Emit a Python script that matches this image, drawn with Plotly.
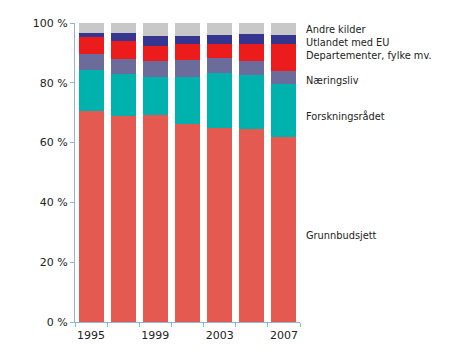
import plotly.graph_objects as go

years = ["1995", "1997", "1999", "2001", "2003", "2005", "2007"]
tick_labels = ["1995", "", "1999", "", "2003", "", "2007"]
y_ticks = [0, 20, 40, 60, 80, 100]
y_tick_labels = ["0 %", "20 %", "40 %", "60 %", "80 %", "100 %"]

grunnbudsjett = [70.6, 68.9, 69.1, 66.1, 65.0, 64.5, 61.9]
forskningsradet = [13.7, 14.1, 12.8, 15.8, 18.3, 18.2, 17.8]
naeringsliv = [5.3, 5.1, 5.5, 5.8, 5.1, 4.7, 4.2]
departementer = [5.6, 5.9, 5.0, 5.4, 4.7, 5.7, 9.2]
utlandet = [1.6, 2.8, 3.1, 2.4, 2.8, 3.1, 2.8]
andre = [3.2, 3.2, 4.5, 4.5, 4.1, 3.8, 4.1]

series = [
    ("Grunnbudsjett", grunnbudsjett, "#E55A50"),
    ("Forskningsrådet", forskningsradet, "#00B2AE"),
    ("Næringsliv", naeringsliv, "#6C6C9C"),
    ("Departementer, fylke mv.", departementer, "#EC1C1C"),
    ("Utlandet med EU", utlandet, "#363690"),
    ("Andre kilder", andre, "#C8C8C8"),
]

fig = go.Figure()
for name, vals, col in series:
    fig.add_trace(go.Bar(x=years, y=vals, name=name, marker=dict(color=col, line=dict(width=0))))

label_pos = [
    ("Grunnbudsjett", 28.8),
    ("Forskningsrådet", 68.9),
    ("Næringsliv", 80.9),
    ("Departementer, fylke mv.", 89.0),
    ("Utlandet med EU", 93.4),
    ("Andre kilder", 97.8),
]
for txt, yv in label_pos:
    fig.add_annotation(x=1.0, xref="paper", xshift=4, y=yv, yref="y", text=txt,
                       showarrow=False, xanchor="left", yanchor="middle",
                       font=dict(family="DejaVu Sans", size=9.8, color="#222222"))

axis_col = "#8EB4DC"
fig.update_layout(
    barmode="stack",
    bargap=0.22,
    width=450, height=360,
    margin=dict(l=67, r=158, t=15, b=46, autoexpand=False),
    plot_bgcolor="white", paper_bgcolor="white",
    showlegend=False,
    font=dict(family="DejaVu Sans", size=11, color="#222222"),
    xaxis=dict(type="category", tickvals=years, ticktext=tick_labels, tickson="boundaries",
               tickangle=0, automargin=False, ticklabelstandoff=3,
               ticks="outside", ticklen=4, tickcolor=axis_col, showline=True, linecolor=axis_col,
               linewidth=1, showgrid=False, tickfont=dict(size=11)),
    yaxis=dict(range=[0, 100], tickmode="array", tickvals=y_ticks, ticktext=y_tick_labels,
               automargin=False,
               ticks="outside", ticklen=4, tickcolor=axis_col, showline=True, linecolor=axis_col,
               linewidth=1, showgrid=False, zeroline=False, tickfont=dict(size=11)),
)

fig.write_html("out.html")
